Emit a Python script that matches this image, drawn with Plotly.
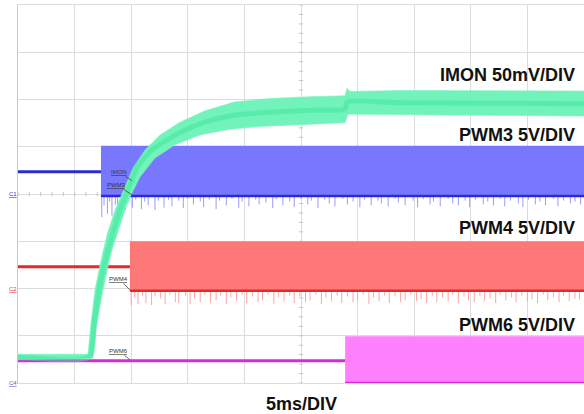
import numpy as np
import plotly.graph_objects as go

# ---------------- data (time in ms, vertical position in screen divisions) ----------------
T_END_MS = 50.0
MS_PER_DIV = 5.0
N_VDIV = 8

# IMON envelope (noisy band) upper / lower edge
IMON_UPPER_T = [0, 6.18, 6.45, 6.80, 7.24, 7.86, 8.57, 9.19, 10.16, 11.22, 12.55, 14.31, 16.52,
                19.17, 22.26, 25.80, 28.89, 29.06, 29.33, 33.74, 50]
IMON_UPPER_Y = [0.61, 0.61, 1.27, 1.97, 2.50, 3.13, 3.66, 4.02, 4.55, 4.93, 5.25, 5.52, 5.76,
                5.95, 6.02, 6.06, 6.08, 6.24, 6.17, 6.19, 6.18]
IMON_LOWER_T = [0, 6.63, 6.98, 7.51, 7.95, 8.30, 8.83, 9.54, 10.07, 10.78, 12.10, 13.87, 16.08,
                18.73, 21.38, 24.91, 28.89, 29.15, 33.74, 50]
IMON_LOWER_Y = [0.49, 0.53, 1.27, 1.97, 2.46, 2.81, 3.17, 3.72, 4.02, 4.36, 4.76, 5.04, 5.25,
                5.37, 5.43, 5.47, 5.51, 5.69, 5.67, 5.65]
# IMON dense core
IMON_CORE_T = [0, 6.3, 6.72, 7.16, 7.58, 8.37, 9.10, 9.63, 10.5, 11.8, 14.31, 16.52, 19.17,
               22.26, 25.8, 28.89, 29.1, 33.74, 50]
IMON_CORE_Y = [0.55, 0.55, 1.27, 1.97, 2.46, 3.17, 3.72, 4.02, 4.55, 4.93, 5.30, 5.52, 5.67,
               5.73, 5.77, 5.80, 5.95, 5.93, 5.91]

# PWM channels: start time, idle level, high level, low level
PWM_NAMES = ["PWM3", "PWM4", "PWM6"]
PWM_START_MS = [7.33, 9.89, 28.9]
PWM_IDLE = [4.47, 2.46, 0.47]
PWM_HIGH = [5.02, 3.00, 0.99]
PWM_LOW = [3.96, 1.95, 0.0]

# glitch spikes below the low level (time ms, depth div)
PWM3_SPIKE_MS = [7.4, 7.6, 7.9, 8.1, 8.3, 8.6, 8.8, 9.2, 9.5, 9.7, 10.1, 10.4, 10.9, 11.2, 11.5,
                 12.1, 12.4, 12.9, 13.3, 13.6, 14.2, 14.6, 15.0, 15.5, 16.1, 16.4, 16.9, 17.5,
                 17.8, 18.4, 18.9, 19.5, 19.8, 20.4, 21.0, 21.3, 21.9, 22.5, 22.8, 23.4, 24.0,
                 24.4, 25.0, 25.6, 25.9, 26.5, 27.1, 27.5, 28.0, 28.7, 29.1, 29.6, 30.2, 30.6,
                 31.2, 31.8, 32.1, 32.7, 33.3, 33.6, 34.2, 34.9, 35.3, 35.8, 36.4, 36.7, 37.3,
                 38.0, 38.4, 38.9, 39.5, 39.9, 40.4, 41.1, 41.5, 42.0, 42.6, 43.0, 43.5, 44.2,
                 44.6, 45.1, 45.7, 46.1, 46.6, 47.3, 47.7, 48.2, 48.8, 49.2, 49.7]
PWM3_SPIKE_DEPTH = [0.45, 0.20, 0.38, 0.12, 0.42, 0.18, 0.35, 0.10, 0.30, 0.15, 0.25, 0.08, 0.28,
                    0.12, 0.20, 0.30, 0.10, 0.25, 0.08, 0.22, 0.10, 0.26, 0.06, 0.18, 0.12, 0.24,
                    0.08, 0.28, 0.10, 0.20, 0.06, 0.25, 0.12, 0.22, 0.08, 0.18, 0.14, 0.26, 0.07,
                    0.20, 0.12, 0.24, 0.06, 0.18, 0.10, 0.26, 0.08, 0.16, 0.22, 0.06, 0.18, 0.12,
                    0.24, 0.08, 0.20, 0.10, 0.16, 0.22, 0.06, 0.14, 0.20, 0.10, 0.24, 0.07, 0.18,
                    0.12, 0.22, 0.06, 0.16, 0.20, 0.10, 0.24, 0.08, 0.18, 0.12, 0.20, 0.06, 0.22,
                    0.10, 0.16, 0.24, 0.08, 0.18, 0.12, 0.20, 0.06, 0.22, 0.10, 0.16, 0.12, 0.18]
PWM4_SPIKE_MS = [10.0, 10.3, 10.6, 11.0, 11.3, 11.8, 12.1, 12.6, 13.0, 13.4, 13.9, 14.2, 14.8,
                 15.2, 15.6, 16.1, 16.5, 17.0, 17.5, 17.9, 18.4, 18.8, 19.3, 19.8, 20.2, 20.7,
                 21.2, 21.6, 22.1, 22.6, 23.0, 23.5, 24.0, 24.4, 24.9, 25.4, 25.8, 26.3, 26.8,
                 27.2, 27.7, 28.2, 28.6, 29.1, 29.6, 30.0, 30.5, 31.0, 31.4, 31.9, 32.4, 32.8,
                 33.3, 33.8, 34.2, 34.7, 35.2, 35.6, 36.1, 36.6, 37.0, 37.5, 38.0, 38.4, 38.9,
                 39.4, 39.8, 40.3, 40.8, 41.2, 41.7, 42.2, 42.6, 43.1, 43.6, 44.0, 44.5, 45.0,
                 45.4, 45.9, 46.4, 46.8, 47.3, 47.8, 48.2, 48.7, 49.2, 49.6]
PWM4_SPIKE_DEPTH = [0.30, 0.14, 0.28, 0.10, 0.26, 0.30, 0.12, 0.16, 0.28, 0.08, 0.24, 0.26, 0.10,
                    0.28, 0.16, 0.24, 0.08, 0.26, 0.20, 0.10, 0.28, 0.14, 0.22, 0.08, 0.26, 0.12,
                    0.24, 0.20, 0.08, 0.28, 0.14, 0.22, 0.10, 0.26, 0.12, 0.24, 0.20, 0.08, 0.28,
                    0.14, 0.22, 0.10, 0.26, 0.12, 0.24, 0.20, 0.08, 0.28, 0.14, 0.22, 0.10, 0.26,
                    0.12, 0.24, 0.20, 0.08, 0.22, 0.18, 0.26, 0.10, 0.24, 0.14, 0.22, 0.08, 0.26,
                    0.12, 0.20, 0.24, 0.10, 0.22, 0.16, 0.26, 0.08, 0.20, 0.14, 0.24, 0.10, 0.22,
                    0.18, 0.26, 0.08, 0.20, 0.14, 0.24, 0.10, 0.22, 0.16, 0.18]

CH_LABELS = ["IMON 50mV/DIV", "PWM3 5V/DIV", "PWM4 5V/DIV", "PWM6 5V/DIV"]
TIME_LABEL = "5ms/DIV"

# ---------------- styling ----------------
FILL = ["#7878ff", "#ff7878", "#ff80ff"]
DARK = ["#2a2ad8", "#e22a2a", "#d82ad8"]
SPIKE = ["#9a9aff", "#ffa4a4"]
GRID = "#dcdcdc"
FONT = "Liberation Sans, Arial, sans-serif"

fig = go.Figure()

# graticule center ticks
fig.add_trace(go.Scatter(x=np.arange(0, T_END_MS + 0.01, 1.0), y=[N_VDIV / 2] * 51, mode="markers",
                         marker=dict(symbol="line-ns", size=3, line=dict(width=1, color="#c4c4c4")),
                         hoverinfo="skip", showlegend=False))
fig.add_trace(go.Scatter(x=[T_END_MS / 2] * 41, y=np.arange(0, N_VDIV + 0.01, 0.2), mode="markers",
                         marker=dict(symbol="line-ew", size=3, line=dict(width=1, color="#c4c4c4")),
                         hoverinfo="skip", showlegend=False))

spikes = [(PWM3_SPIKE_MS, PWM3_SPIKE_DEPTH), (PWM4_SPIKE_MS, PWM4_SPIKE_DEPTH)]
for i in range(3):
    t0, idle, hi, lo = PWM_START_MS[i], PWM_IDLE[i], PWM_HIGH[i], PWM_LOW[i]
    # spikes
    if i < 2:
        st, sd = spikes[i]
        xs, ys = [], []
        for t, d in zip(st, sd):
            xs += [t, t, None]
            ys += [lo, lo - d, None]
        fig.add_trace(go.Scatter(x=xs, y=ys, mode="lines", line=dict(color=SPIKE[i], width=1),
                                 hoverinfo="skip", showlegend=False))
    # switching region fill
    fig.add_trace(go.Scatter(x=[t0, T_END_MS, T_END_MS, t0, t0], y=[lo, lo, hi, hi, lo],
                             mode="lines", fill="toself", fillcolor=FILL[i],
                             line=dict(width=0, color=FILL[i]), hoverinfo="skip", showlegend=False))
    # low level line
    fig.add_trace(go.Scatter(x=[t0, T_END_MS], y=[lo, lo], mode="lines",
                             line=dict(color=DARK[i], width=2.5), hoverinfo="skip", showlegend=False))
    # idle level before switching
    fig.add_trace(go.Scatter(x=[0, t0], y=[idle, idle], mode="lines",
                             line=dict(color=DARK[i], width=3), hoverinfo="skip", showlegend=False))

# IMON band
fig.add_trace(go.Scatter(x=IMON_UPPER_T + IMON_LOWER_T[::-1], y=IMON_UPPER_Y + IMON_LOWER_Y[::-1],
                         mode="lines", fill="toself", fillcolor="#72f3bb",
                         line=dict(width=0.5, color="#72f3bb"), hoverinfo="skip", showlegend=False))
fig.add_trace(go.Scatter(x=IMON_CORE_T, y=IMON_CORE_Y, mode="lines",
                         line=dict(color="#3ee79b", width=5, shape="spline", smoothing=0.6),
                         opacity=0.5, hoverinfo="skip", showlegend=False))

# big channel labels
label_y = [6.52, 5.25, 3.28, 1.23]
for txt, yy in zip(CH_LABELS, label_y):
    fig.add_annotation(x=49.35, y=yy, xref="x", yref="y", text=txt, showarrow=False,
                       xanchor="right", yanchor="middle",
                       font=dict(family=FONT, size=18, color="#111111", weight="bold"))
fig.add_annotation(x=0.5, y=0, xref="paper", yref="paper", text=TIME_LABEL, showarrow=False,
                   xanchor="center", yanchor="top", yshift=-9,
                   font=dict(family=FONT, size=18, color="#111111", weight="bold"))

# small probe labels with leader lines
small = [("IMON", 10.07, 4.28, -13, -9), ("PWM3", 10.07, 3.98, -15, -10),
         ("PWM4", 9.89, 1.97, -11, -11), ("PWM6", 9.89, 0.49, -11, -9)]
for txt, x, y, ax, ay in small:
    fig.add_annotation(x=x, y=y, xref="x", yref="y", text="<u>" + txt + "</u>", showarrow=True,
                       arrowhead=0, arrowwidth=0.8, arrowcolor="#444444", ax=ax, ay=ay,
                       font=dict(family=FONT, size=6, color="#333333"))

# channel ground markers
markers = [("C1", 4.0, "#3a3ad0"), ("C2", 2.0, "#e04040"), ("C4", 0.0, "#6a5ac0")]
for txt, yy, col in markers:
    fig.add_annotation(x=0, y=yy, xref="paper", yref="y", text="<u>" + txt + "</u>", showarrow=False,
                       xanchor="right", yanchor="middle", xshift=1,
                       font=dict(family=FONT, size=6, color=col))

fig.update_layout(
    width=584, height=414, margin=dict(l=18, r=0, t=5, b=31),
    paper_bgcolor="white", plot_bgcolor="white", showlegend=False,
    xaxis=dict(range=[0, T_END_MS], dtick=MS_PER_DIV, tick0=0, showgrid=True, gridcolor=GRID,
               gridwidth=1, showticklabels=False, zeroline=False, showline=True, linecolor=GRID,
               mirror=True, ticks=""),
    yaxis=dict(range=[0, N_VDIV], dtick=1, tick0=0, showgrid=True, gridcolor=GRID, gridwidth=1,
               showticklabels=False, zeroline=False, showline=True, linecolor="#c8c8c8",
               mirror=True, ticks=""),
)

fig.write_html("out.html", config={"displayModeBar": False},
               post_script="document.body.style.margin='0px';document.body.style.overflow='hidden';")
